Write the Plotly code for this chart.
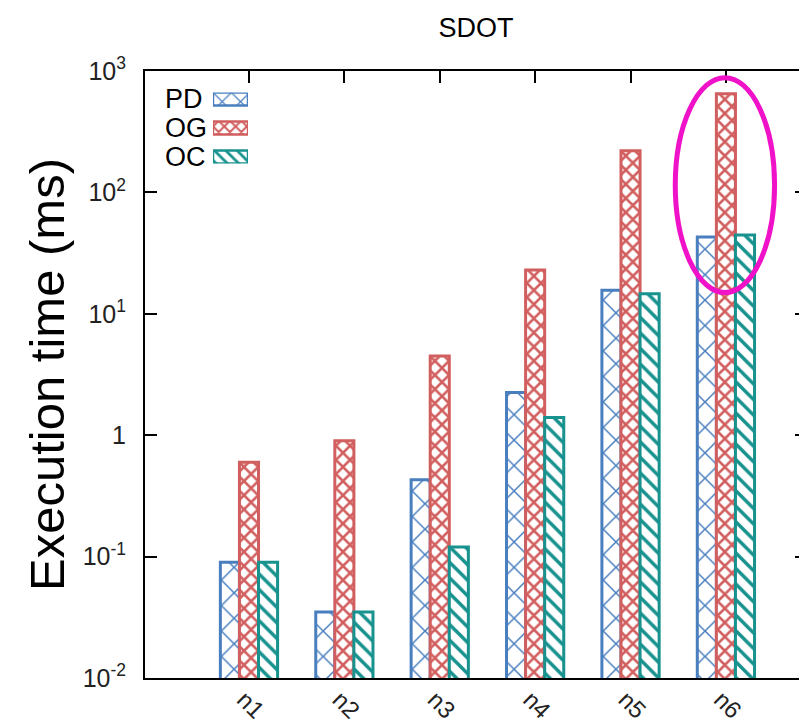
import plotly.graph_objects as go

# ---- data ----
categories = ["n1", "n2", "n3", "n4", "n5", "n6"]
series_names = ["PD", "OG", "OC"]
pd_values = [0.090, 0.035, 0.43, 2.25, 15.6, 43.0]
og_values = [0.60, 0.90, 4.5, 22.9, 220.0, 650.0]
oc_values = [0.090, 0.035, 0.12, 1.40, 14.6, 44.5]
ytick_vals = [0.01, 0.1, 1, 10, 100, 1000]
ytick_text = ["10<sup>-2</sup>", "10<sup>-1</sup>", "1", "10<sup>1</sup>", "10<sup>2</sup>", "10<sup>3</sup>"]

colors = ["#4a7fbf", "#d25f5f", "#18928e"]
patterns = [
    dict(shape="x", size=18, solidity=0.16),
    dict(shape="x", size=10, solidity=0.45),
    dict(shape="\\", size=11, solidity=0.32),
]
legend_patterns = [
    dict(shape="x", size=13, solidity=0.18),
    dict(shape="x", size=8, solidity=0.45),
    dict(shape="\\", size=8, solidity=0.35),
]
all_values = [pd_values, og_values, oc_values]

FONT = "Liberation Sans, Arial, Helvetica, sans-serif"

# The page body keeps an 8px default margin, so the figure is 8px smaller each way.
FIG_W, FIG_H = 799, 716

fig = go.Figure()
for name, vals, col, pat in zip(series_names, all_values, colors, patterns):
    fig.add_trace(go.Bar(
        x=categories, y=vals, name=name,
        marker=dict(color=col,
                    line=dict(color=col, width=3),
                    pattern=dict(fgcolor=col, bgcolor="white", fillmode="replace", **pat)),
        showlegend=False,
    ))

# legend swatches drawn as small bars on a hidden overlay axis
for i, (name, col, pat) in enumerate(zip(series_names, colors, legend_patterns)):
    fig.add_trace(go.Bar(
        x=[1], y=[2 - i], orientation="h", base=0,
        width=0.448, offset=-0.224,
        marker=dict(color=col,
                    line=dict(color=col, width=2.5),
                    pattern=dict(fgcolor=col, bgcolor="white", fillmode="replace", **pat)),
        xaxis="x2", yaxis="y2", showlegend=False, hoverinfo="skip",
    ))
    fig.add_annotation(
        text=name, xref="paper", yref="paper",
        x=0.0272, y=[0.9539, 0.9061, 0.8583][i],
        xanchor="left", yanchor="middle", showarrow=False,
        font=dict(family=FONT, size=27, color="black"),
    )

fig.update_layout(
    width=FIG_W, height=FIG_H,
    margin=dict(l=137, r=0, t=63, b=46, autoexpand=False),
    paper_bgcolor="white", plot_bgcolor="white",
    barmode="group", bargap=0.4, bargroupgap=0.0,
    title=dict(text="SDOT", x=0.5, xref="paper", xanchor="center",
               y=1 - 20 / FIG_H, yanchor="middle",
               font=dict(family=FONT, size=27, color="black")),
    font=dict(family=FONT, color="black"),
    xaxis=dict(
        type="category", range=[-1.09, 5.85], automargin=False,
        showline=True, linecolor="black", linewidth=2, mirror="ticks",
        ticks="inside", ticklen=12, tickwidth=1.5, tickcolor="black",
        tickangle=45, tickfont=dict(family=FONT, size=24, color="#222"),
        ticklabelshift=-5, ticklabelstandoff=-4,
        showgrid=False, zeroline=False, layer="below traces",
    ),
    yaxis=dict(
        type="log", range=[-2, 3], automargin=False,
        tickvals=ytick_vals, ticktext=ytick_text,
        showline=True, linecolor="black", linewidth=2, mirror="ticks",
        ticks="inside", ticklen=12, tickwidth=1.5, tickcolor="black",
        tickfont=dict(family=FONT, size=25, color="#222"),
        ticklabelstandoff=12,
        showgrid=False, zeroline=False, layer="below traces",
        title=dict(text="Execution time (ms)", standoff=2,
                   font=dict(family=FONT, size=49, color="black")),
    ),
    xaxis2=dict(domain=[0.1027, 0.1556], range=[0, 1], anchor="y2",
                visible=False, fixedrange=True),
    yaxis2=dict(domain=[0.8476, 0.9646], range=[-0.224, 2.224], anchor="x2",
                visible=False, fixedrange=True),
    shapes=[dict(type="circle", xref="paper", yref="paper",
                 x0=0.801, x1=0.951, y0=0.635, y1=0.989,
                 line=dict(color="#f012c8", width=5), layer="above")],
)

fig.write_html("out.html")
